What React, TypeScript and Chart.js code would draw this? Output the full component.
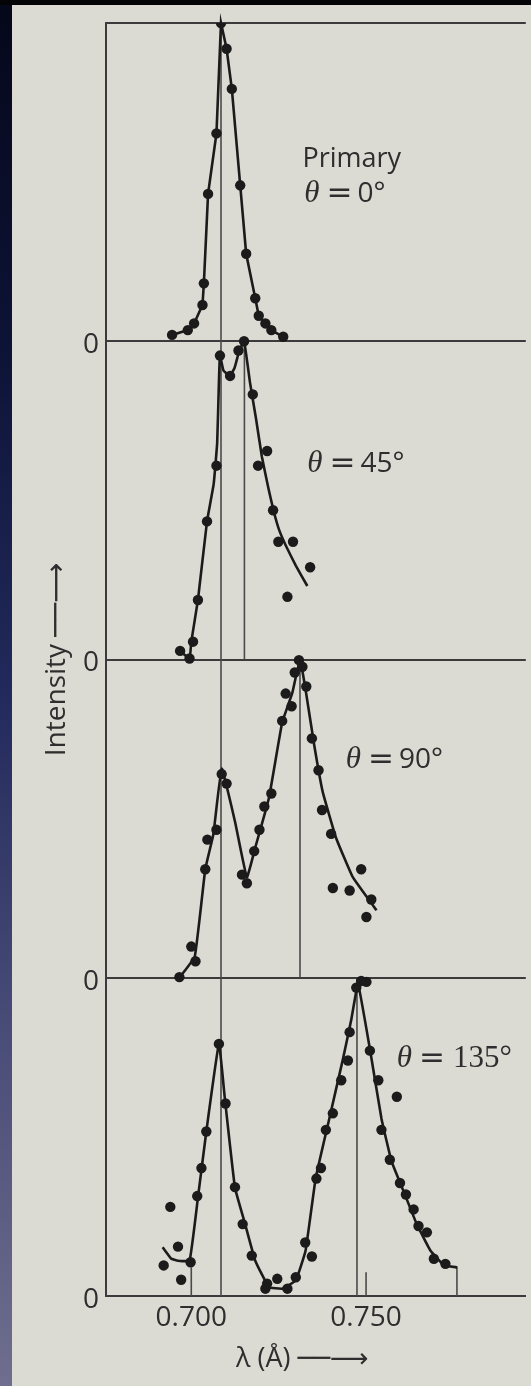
import React, { useEffect, useRef } from 'react';
import { Chart, registerables } from 'chart.js';

Chart.register(...registerables);

// ---------------- data (λ in Å, intensity normalised per panel) ----------------
const xTickValues = [0.7, 0.75];
const yTickValues = [0, 1, 2, 3, 4];

// Primary, θ = 0°
const primaryLambda = [0.6945, 0.699, 0.7008, 0.7032, 0.7036, 0.7048, 0.7072, 0.7085, 0.7101, 0.7116, 0.714, 0.7157, 0.7183, 0.7193, 0.7212, 0.7229, 0.7263];
const primaryIntensity = [0.02, 0.035, 0.056, 0.114, 0.182, 0.463, 0.653, 1.0, 0.919, 0.793, 0.49, 0.275, 0.135, 0.08, 0.056, 0.035, 0.014];

// θ = 45°
const deg45Lambda = [0.6968, 0.6995, 0.7005, 0.7019, 0.7045, 0.7072, 0.7082, 0.7111, 0.7135, 0.7151, 0.7176, 0.7191, 0.7217, 0.7234, 0.7249, 0.7275, 0.7291, 0.734];
const deg45Intensity = [0.027, 0.003, 0.056, 0.187, 0.434, 0.609, 0.955, 0.891, 0.971, 1.0, 0.833, 0.609, 0.655, 0.469, 0.37, 0.197, 0.37, 0.29];
const deg45FitLambda = [0.6965, 0.6995, 0.7, 0.7019, 0.7045, 0.7064, 0.7074, 0.7079, 0.7082, 0.7092, 0.711, 0.7124, 0.7136, 0.7151, 0.7168, 0.7185, 0.7202, 0.722, 0.7236, 0.7251, 0.727, 0.7299, 0.7332];
const deg45FitIntensity = [0.03, 0.003, 0.056, 0.187, 0.434, 0.551, 0.679, 0.87, 0.956, 0.908, 0.891, 0.917, 0.965, 1.0, 0.87, 0.758, 0.637, 0.541, 0.465, 0.408, 0.359, 0.295, 0.231];

// θ = 90°
const deg90Lambda = [0.6966, 0.7, 0.7012, 0.704, 0.7046, 0.7072, 0.7087, 0.7101, 0.7145, 0.7159, 0.718, 0.7195, 0.7209, 0.7229, 0.726, 0.727, 0.7287, 0.7296, 0.7308, 0.7318, 0.7329, 0.7345, 0.7364, 0.7374, 0.74, 0.7405, 0.7453, 0.7486, 0.7501, 0.7515];
const deg90Intensity = [0.002, 0.098, 0.052, 0.341, 0.434, 0.465, 0.64, 0.61, 0.324, 0.297, 0.398, 0.465, 0.538, 0.579, 0.807, 0.893, 0.853, 0.959, 0.998, 0.977, 0.915, 0.752, 0.652, 0.527, 0.452, 0.282, 0.274, 0.341, 0.191, 0.246];
const deg90FitLambda = [0.6966, 0.701, 0.704, 0.7063, 0.7087, 0.7125, 0.7159, 0.7183, 0.7222, 0.726, 0.7289, 0.7311, 0.7327, 0.7352, 0.7376, 0.7414, 0.7462, 0.753];
const deg90FitIntensity = [0.0, 0.067, 0.341, 0.45, 0.657, 0.491, 0.316, 0.409, 0.564, 0.802, 0.895, 1.0, 0.905, 0.729, 0.584, 0.44, 0.316, 0.212];

// θ = 135°
const deg135Lambda = [0.6921, 0.694, 0.6962, 0.6971, 0.6998, 0.7017, 0.7029, 0.7043, 0.7079, 0.7098, 0.7125, 0.7147, 0.7173, 0.7212, 0.7217, 0.7246, 0.7275, 0.7299, 0.7326, 0.7345, 0.7358, 0.7371, 0.7385, 0.7405, 0.7429, 0.7448, 0.7453, 0.7472, 0.7486, 0.7501, 0.7511, 0.7535, 0.7544, 0.7568, 0.7588, 0.7597, 0.7614, 0.7636, 0.765, 0.7674, 0.7694, 0.7727];
const deg135Intensity = [0.096, 0.28, 0.155, 0.051, 0.106, 0.314, 0.402, 0.517, 0.792, 0.605, 0.342, 0.226, 0.127, 0.023, 0.039, 0.054, 0.023, 0.059, 0.168, 0.124, 0.369, 0.402, 0.522, 0.574, 0.678, 0.74, 0.829, 0.969, 0.99, 0.987, 0.771, 0.678, 0.522, 0.428, 0.626, 0.355, 0.319, 0.272, 0.22, 0.2, 0.117, 0.101];
const deg135FitLambda = [0.6918, 0.6942, 0.6962, 0.6995, 0.7019, 0.7043, 0.7079, 0.7096, 0.7125, 0.7154, 0.7183, 0.7222, 0.726, 0.7299, 0.7327, 0.7356, 0.7395, 0.7434, 0.7458, 0.7477, 0.7511, 0.7544, 0.7573, 0.7607, 0.7645, 0.7684, 0.7723, 0.7761];
const deg135FitIntensity = [0.153, 0.118, 0.111, 0.111, 0.309, 0.517, 0.792, 0.621, 0.34, 0.226, 0.111, 0.028, 0.023, 0.049, 0.143, 0.371, 0.558, 0.745, 0.87, 0.98, 0.776, 0.558, 0.423, 0.33, 0.226, 0.143, 0.096, 0.09];

// reference wavelengths
const unshiftedLambda = 0.7085;
const shiftedLambda = [0.7152, 0.7311, 0.7474]; // 45°, 90°, 135°
const bottomTickLambda = [0.7, 0.75, 0.776];
const bottomTickHeight = [0.09, 0.075, 0.09];

// panel base offsets (top panel = primary)
const panelBase = [3, 2, 1, 0];

// ---------------- style ----------------
const INK = '#1b1b1b';
const FRAME = '#3b3b3b';
const TEXT = '#2e2e2e';
const SANS = "'Open Sans', 'DejaVu Sans', sans-serif";

const toXY = (lams: number[], vals: number[], base: number) =>
  lams.map((l, i) => ({ x: l, y: vals[i] + base }));

const panelLabels = [
  { x: 0.7318, y: 3.548, segs: [{ text: 'Primary', font: `27px ${SANS}`, gap: 0 }] },
  { x: 0.7323, y: 3.439, segs: [
    { text: 'θ', font: "italic 31px 'Liberation Serif'", gap: 0 },
    { text: '=', font: "31px 'DejaVu Sans'", gap: 7 },
    { text: '0°', font: `28px ${SANS}`, gap: 5 },
  ] },
  { x: 0.7332, y: 2.589, segs: [
    { text: 'θ', font: "italic 31px 'Liberation Serif'", gap: 0 },
    { text: '=', font: "31px 'DejaVu Sans'", gap: 7 },
    { text: '45°', font: `28px ${SANS}`, gap: 5 },
  ] },
  { x: 0.7442, y: 1.66, segs: [
    { text: 'θ', font: "italic 31px 'Liberation Serif'", gap: 0 },
    { text: '=', font: "31px 'DejaVu Sans'", gap: 7 },
    { text: '90°', font: `28px ${SANS}`, gap: 5 },
  ] },
  { x: 0.7588, y: 0.7206, segs: [
    { text: 'θ', font: "italic 31px 'Liberation Serif'", gap: 0 },
    { text: '=', font: "31px 'DejaVu Sans'", gap: 7 },
    { text: '135°', font: "31px 'Liberation Serif'", gap: 8 },
  ] },
];

const labelPlugin = {
  id: 'panelLabels',
  afterDatasetsDraw(chart: any) {
    const { ctx, scales } = chart;
    const xs = scales.x;
    const ys = scales.y;
    ctx.save();
    ctx.fillStyle = TEXT;
    ctx.textBaseline = 'alphabetic';
    ctx.textAlign = 'left';
    for (const lab of panelLabels) {
      let px = xs.getPixelForValue(lab.x);
      const py = ys.getPixelForValue(lab.y);
      for (const seg of lab.segs) {
        px += seg.gap;
        ctx.font = seg.font;
        ctx.fillText(seg.text, px, py);
        px += ctx.measureText(seg.text).width;
      }
    }
    ctx.restore();
  },
};

export default function App() {
  const ref = useRef<HTMLCanvasElement | null>(null);

  useEffect(() => {
    if (!ref.current) return;

    const lineDs = (data: any[], width: number, color: string, order: number, tension = 0) => ({
      data,
      showLine: true,
      borderColor: color,
      borderWidth: width,
      pointRadius: 0,
      tension,
      order,
      clip: false as any,
    });
    const pointDs = (data: any[]) => ({
      data,
      showLine: false,
      pointRadius: 5.2,
      pointBackgroundColor: INK,
      pointBorderWidth: 0,
      order: 1,
    });

    const datasets: any[] = [];
    // unshifted line across all panels
    datasets.push(lineDs([{ x: unshiftedLambda, y: 0 }, { x: unshiftedLambda, y: 4 }], 1.6, '#4a4a4a', 4));
    // shifted lines, one per panel
    shiftedLambda.forEach((l, i) => {
      const b = panelBase[i + 1];
      datasets.push(lineDs([{ x: l, y: b }, { x: l, y: b + 1 }], 1.6, '#4a4a4a', 4));
    });
    // bottom tick marks
    bottomTickLambda.forEach((l, i) => {
      datasets.push(lineDs([{ x: l, y: 0 }, { x: l, y: bottomTickHeight[i] }], 1.6, '#4a4a4a', 4));
    });
    // curves
    datasets.push(lineDs(toXY(primaryLambda, primaryIntensity, panelBase[0]), 2.6, INK, 2));
    datasets.push(lineDs(toXY(deg45FitLambda, deg45FitIntensity, panelBase[1]), 2.6, INK, 2, 0.1));
    datasets.push(lineDs(toXY(deg90FitLambda, deg90FitIntensity, panelBase[2]), 2.6, INK, 2, 0.1));
    datasets.push(lineDs(toXY(deg135FitLambda, deg135FitIntensity, panelBase[3]), 2.6, INK, 2, 0.1));
    // measured points
    datasets.push(pointDs(toXY(primaryLambda, primaryIntensity, panelBase[0])));
    datasets.push(pointDs(toXY(deg45Lambda, deg45Intensity, panelBase[1])));
    datasets.push(pointDs(toXY(deg90Lambda, deg90Intensity, panelBase[2])));
    datasets.push(pointDs(toXY(deg135Lambda, deg135Intensity, panelBase[3])));

    const chart = new Chart(ref.current, {
      type: 'scatter',
      data: { datasets },
      options: {
        animation: false,
        responsive: false,
        devicePixelRatio: 1,
        layout: { padding: { left: 0, right: 0, top: 0, bottom: 0 } },
        plugins: { legend: { display: false }, tooltip: { enabled: false } },
        events: [],
        scales: {
          x: {
            type: 'linear',
            min: 0.6756,
            max: 0.7957,
            afterBuildTicks: (s: any) => {
              s.ticks = xTickValues.map((v) => ({ value: v }));
            },
            afterFit: (s: any) => {
              s.height = 90;
              s.paddingLeft = 0;
              s.paddingRight = 0;
            },
            ticks: {
              callback: (v: any) => Number(v).toFixed(3),
              font: { family: SANS, size: 28 },
              color: TEXT,
              padding: 5,
              maxRotation: 0,
              autoSkip: false,
            },
            grid: { display: true, drawOnChartArea: false, drawTicks: false },
            border: { display: true, color: FRAME, width: 2 },
            title: {
              display: true,
              text: 'λ (Å) ──⟶\u2003',
              font: { family: SANS, size: 27 },
              color: TEXT,
              padding: { top: 0, bottom: 10 },
            },
          },
          y: {
            type: 'linear',
            min: 0,
            max: 4,
            afterBuildTicks: (s: any) => {
              s.ticks = yTickValues.map((v) => ({ value: v }));
            },
            afterFit: (s: any) => {
              s.width = 106;
              s.paddingTop = 23;
              s.paddingBottom = 0;
            },
            ticks: {
              callback: (v: any) => (Number(v) < 4 ? '0' : ''),
              font: { family: SANS, size: 28 },
              color: TEXT,
              padding: 7,
              labelOffset: 4,
            },
            grid: { color: FRAME, lineWidth: 2, drawTicks: false },
            border: { display: true, color: FRAME, width: 2 },
            title: {
              display: true,
              text: 'Intensity ──⟶',
              font: { family: SANS, size: 28 },
              color: TEXT,
              padding: { top: 40, bottom: 0 },
            },
          },
        },
      } as any,
      plugins: [labelPlugin],
    });

    return () => chart.destroy();
  }, []);

  return (
    <div
      style={{
        position: 'absolute',
        left: 0,
        top: 0,
        width: 531,
        height: 1386,
        overflow: 'hidden',
        background: 'linear-gradient(180deg, #05071a 0%, #0d1336 25%, #222a5c 50%, #4a4d78 75%, #6f6e8e 100%)',
      }}
    >
      <div style={{ position: 'absolute', left: 0, top: 0, width: 531, height: 5, background: '#040406' }} />
      <div style={{ position: 'absolute', left: 12, top: 5, width: 519, height: 1381, background: '#dcdbd3' }} />
      <canvas ref={ref} width={531} height={1386} style={{ position: 'absolute', left: 0, top: 0, width: 531, height: 1386 }} />
    </div>
  );
}
